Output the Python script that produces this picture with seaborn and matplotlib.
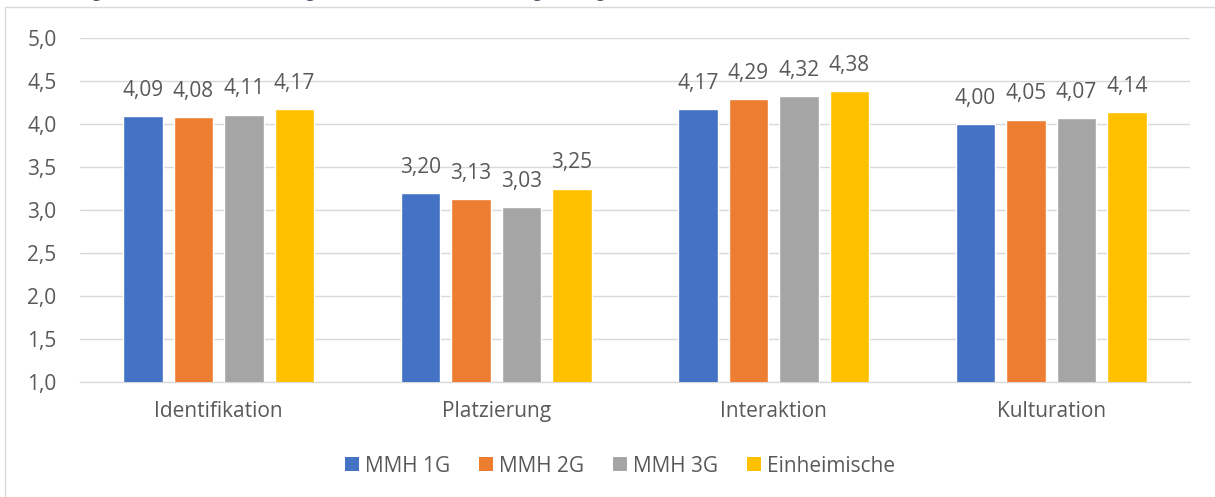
import matplotlib
matplotlib.use("Agg")
import matplotlib.pyplot as plt
import seaborn as sns
import pandas as pd
from matplotlib.patches import Patch, Rectangle

categories = ["Identifikation", "Platzierung", "Interaktion", "Kulturation"]
groups = ["MMH 1G", "MMH 2G", "MMH 3G", "Einheimische"]
mmh1 = [4.09, 3.20, 4.17, 4.00]
mmh2 = [4.08, 3.13, 4.29, 4.05]
mmh3 = [4.11, 3.03, 4.32, 4.07]
einh = [4.17, 3.25, 4.38, 4.14]
y_ticks = [1.0, 1.5, 2.0, 2.5, 3.0, 3.5, 4.0, 4.5, 5.0]
colors = ["#4472C4", "#ED7D31", "#A5A5A5", "#FFC000"]

rows = []
for g, vals in zip(groups, [mmh1, mmh2, mmh3, einh]):
    for c, v in zip(categories, vals):
        rows.append({"Kategorie": c, "Gruppe": g, "Wert": v})
df = pd.DataFrame(rows)

sns.set_theme(style="white")
plt.rcParams["font.family"] = ["Open Sans", "DejaVu Sans"]
txt = "#595959"
fs_val = 15
fs_lab = 15

fig = plt.figure(figsize=(12.15, 4.97), dpi=100)
W, H = 1215, 497
ax = fig.add_axes([80 / W, 1 - 382 / H, 1110 / W, 344 / H])

sns.barplot(data=df, x="Kategorie", y="Wert", hue="Gruppe", order=categories,
            hue_order=groups, palette=colors, width=0.728, gap=0.21,
            saturation=1, errorbar=None, ax=ax, legend=False, zorder=3)

for cont in ax.containers:
    ax.bar_label(cont, labels=[f"{b.get_height():.2f}".replace(".", ",") for b in cont],
                 padding=11, fontsize=fs_val, color=txt)

ax.set_ylim(1.0, 5.0)
ax.set_yticks(y_ticks)
ax.set_yticklabels([f"{t:.1f}".replace(".", ",") for t in y_ticks])
ax.set_xlim(-0.5, 3.5)
ax.yaxis.grid(True, color="#D9D9D9", linewidth=1, zorder=0)
ax.set_axisbelow(True)
for s in ["top", "right", "left"]:
    ax.spines[s].set_visible(False)
ax.spines["bottom"].set_color("#D9D9D9")
ax.spines["bottom"].set_linewidth(1)
ax.tick_params(axis="both", length=0, labelcolor=txt)
ax.tick_params(axis="x", pad=14, labelsize=fs_lab)
ax.tick_params(axis="y", pad=17, labelsize=fs_val)
ax.set_xlabel("")
ax.set_ylabel("")

handles = [Patch(facecolor=c, edgecolor="none") for c in colors]
fig.legend(handles, groups, loc="center", bbox_to_anchor=(620 / W, 1 - 466 / H),
           ncol=4, frameon=False, fontsize=fs_lab, labelcolor=txt,
           handlelength=0.65, handleheight=0.65, handletextpad=0.3, columnspacing=1.4)

fig.patches.append(Rectangle((5 / W, -0.1), 1.2, 1.1 - 7 / H, transform=fig.transFigure,
                             fill=False, edgecolor="#D9D9D9", linewidth=1))

fig.text(26 / W, 1 + 3 / H,
         "Abbildung 1: Mittelwerte der vier Integrationsdimensionen nach Migrationsgeneration",
         ha="left", va="baseline", fontsize=12.5, style="italic", color="#44546A")

fig.savefig("out.png", dpi=100)
